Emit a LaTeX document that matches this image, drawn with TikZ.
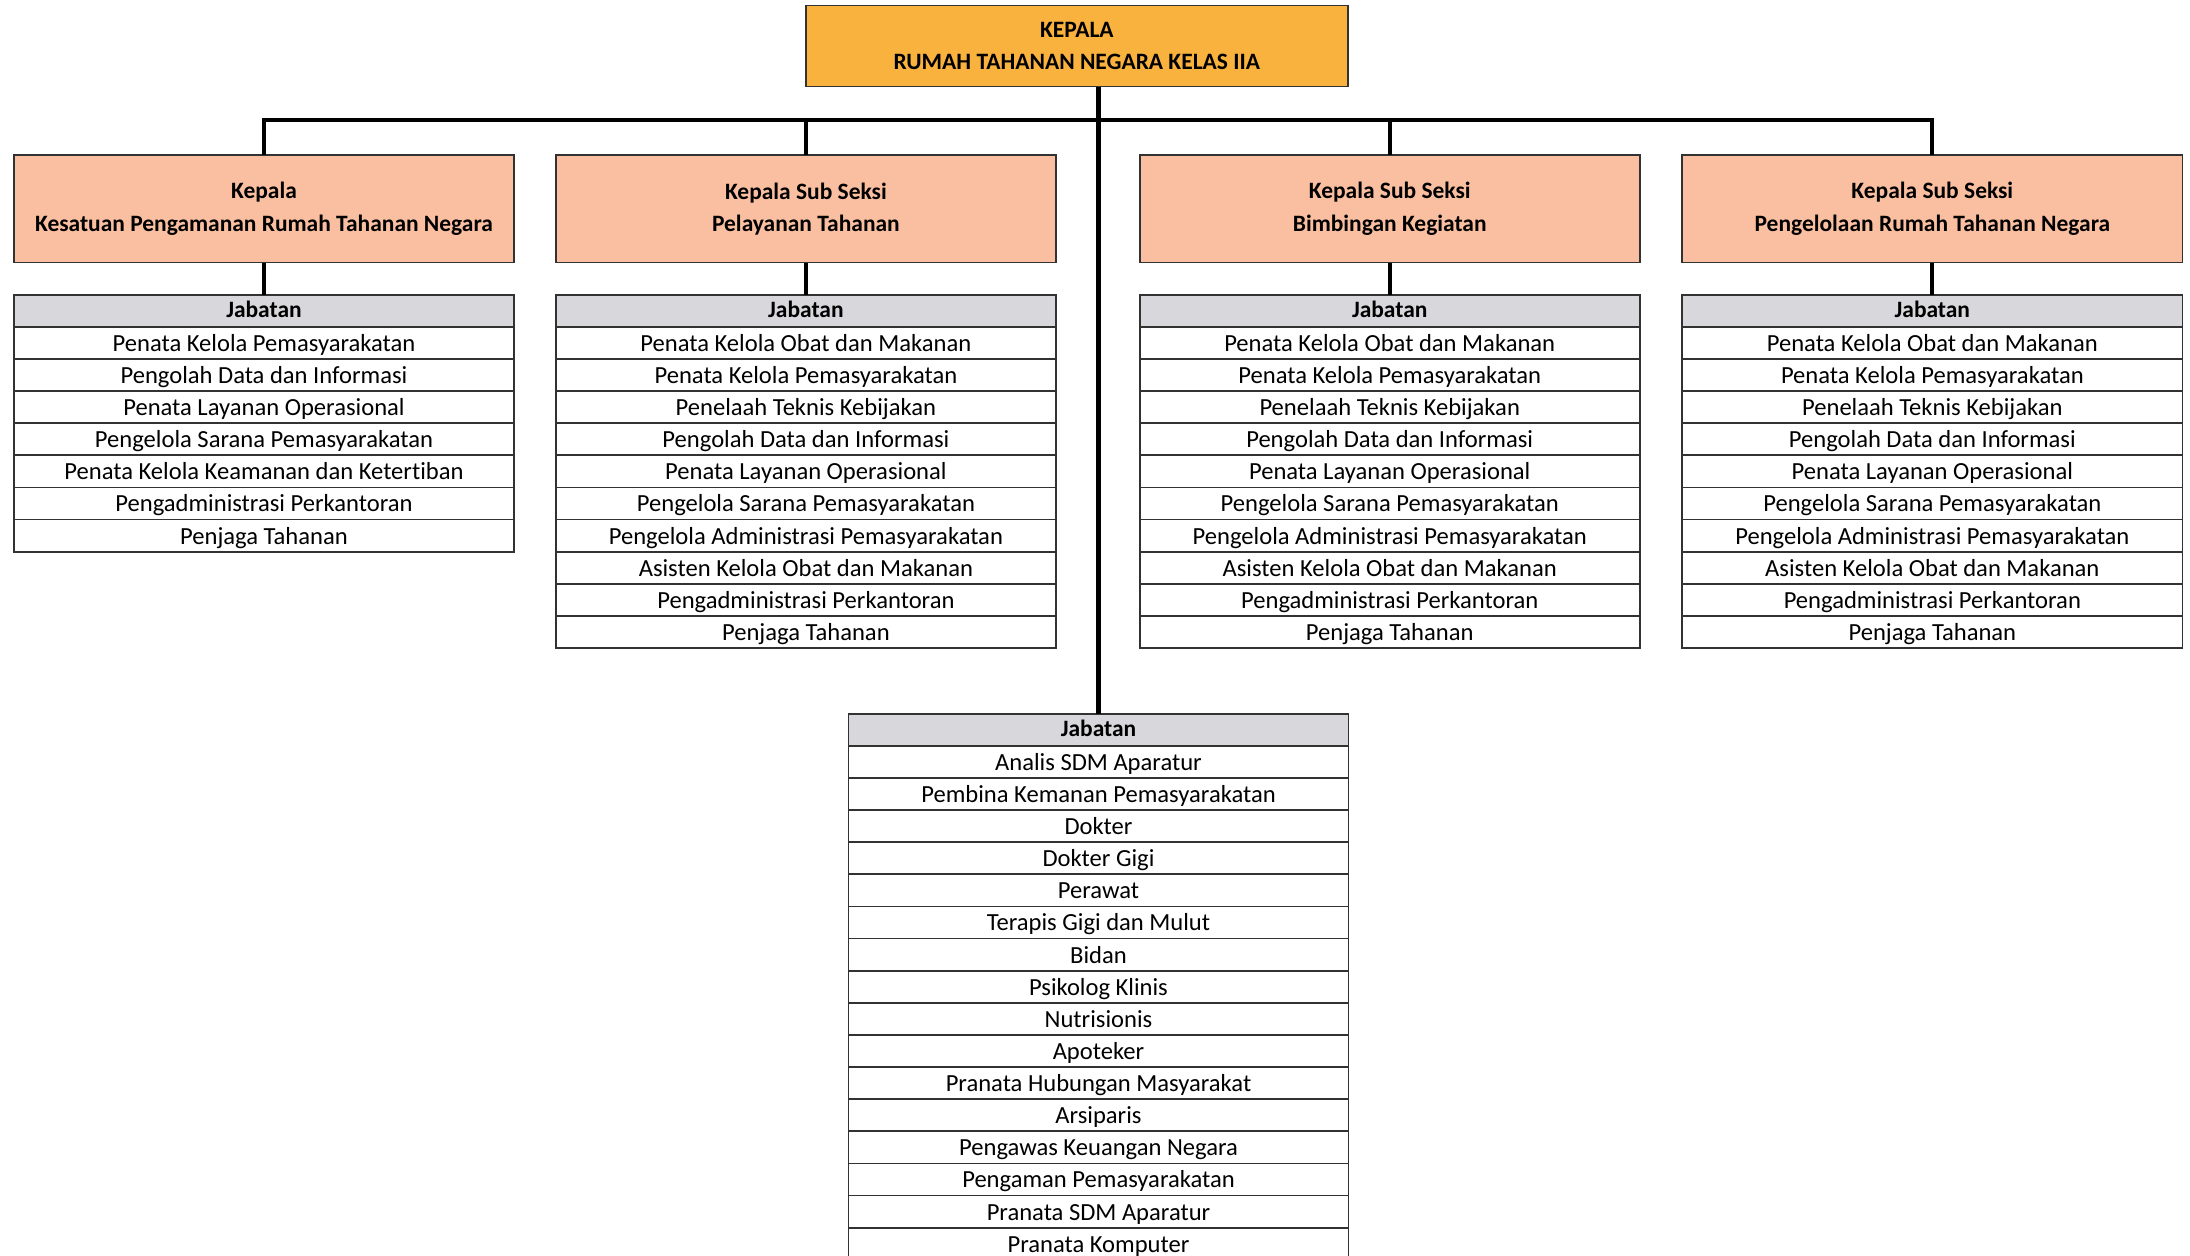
\documentclass[tikz,border=0pt]{standalone}
\usepackage{fontspec}
\setmainfont{Carlito}[Ligatures=NoCommon]
\usetikzlibrary{positioning}
\definecolor{kepalaorange}{RGB}{250,178,62}
\definecolor{seksisalmon}{RGB}{250,191,160}
\definecolor{jabgray}{RGB}{216,216,220}
\definecolor{lineclr}{RGB}{50,50,50}
\tikzset{
  topbox/.style   = {draw=lineclr, line width=0.6pt, fill=kepalaorange, minimum width=194pt, minimum height=29pt, inner sep=0pt, outer sep=0pt, align=center, font=\fontsize{8.4}{11.5}\selectfont\bfseries},
  seksibox/.style = {draw=lineclr, line width=0.6pt, fill=seksisalmon, minimum width=179pt, minimum height=38.5pt, inner sep=0pt, outer sep=0pt, align=center, font=\fontsize{8.4}{11.5}\selectfont\bfseries},
  jhead/.style    = {draw=lineclr, line width=0.6pt, fill=jabgray, minimum width=179pt, minimum height=11.5pt, inner sep=0pt, outer sep=0pt, text height=6.6pt, text depth=1.8pt, font=\fontsize{8.4}{10}\selectfont\bfseries},
  jrow/.style     = {draw=lineclr, line width=0.6pt, fill=white, minimum width=179pt, minimum height=11.5pt, inner sep=0pt, outer sep=0pt, text height=7.6pt, text depth=1.6pt, font=\fontsize{8.8}{10}\selectfont},
  conn/.style     = {line width=1.5pt, draw=black}
}

\begin{document}
\begin{tikzpicture}[x=0.5pt, y=-0.5pt]
  \useasboundingbox (0,0) rectangle (1568,899);
  \clip (0,0) rectangle (1568,899);
  \fill[white] (0,0) rectangle (1568,899);

  % kepala rutan and the four sub seksi
  \node[topbox] (top) at (771,33) {KEPALA\\RUMAH TAHANAN NEGARA KELAS IIA};
  \node[seksibox] (kp1) at (189,149.5)  {Kepala\\Kesatuan Pengamanan Rumah Tahanan Negara};
  \node[seksibox] (kp2) at (577,149.5)  {Kepala Sub Seksi\\Pelayanan Tahanan};
  \node[seksibox] (kp3) at (995,149.5)  {Kepala Sub Seksi\\Bimbingan Kegiatan};
  \node[seksibox] (kp4) at (1383.5,149.5) {Kepala Sub Seksi\\Pengelolaan Rumah Tahanan Negara};

  % jabatan tables
  \node[jhead, below=11.5pt of kp1] (t1-0) {Jabatan};
  \foreach \txt [count=\i, remember=\i as \j (initially 0)] in {Penata Kelola Pemasyarakatan, Pengolah Data dan Informasi, Penata Layanan Operasional, Pengelola Sarana Pemasyarakatan, Penata Kelola Keamanan dan Ketertiban, Pengadministrasi Perkantoran, Penjaga Tahanan}
    \node[jrow, below=0pt of t1-\j] (t1-\i) {\txt};

  \node[jhead, below=11.5pt of kp2] (t2-0) {Jabatan};
  \foreach \txt [count=\i, remember=\i as \j (initially 0)] in {Penata Kelola Obat dan Makanan, Penata Kelola Pemasyarakatan, Penelaah Teknis Kebijakan, Pengolah Data dan Informasi, Penata Layanan Operasional, Pengelola Sarana Pemasyarakatan, Pengelola Administrasi Pemasyarakatan, Asisten Kelola Obat dan Makanan, Pengadministrasi Perkantoran, Penjaga Tahanan}
    \node[jrow, below=0pt of t2-\j] (t2-\i) {\txt};

  \node[jhead, below=11.5pt of kp3] (t3-0) {Jabatan};
  \foreach \txt [count=\i, remember=\i as \j (initially 0)] in {Penata Kelola Obat dan Makanan, Penata Kelola Pemasyarakatan, Penelaah Teknis Kebijakan, Pengolah Data dan Informasi, Penata Layanan Operasional, Pengelola Sarana Pemasyarakatan, Pengelola Administrasi Pemasyarakatan, Asisten Kelola Obat dan Makanan, Pengadministrasi Perkantoran, Penjaga Tahanan}
    \node[jrow, below=0pt of t3-\j] (t3-\i) {\txt};

  \node[jhead, below=11.5pt of kp4] (t4-0) {Jabatan};
  \foreach \txt [count=\i, remember=\i as \j (initially 0)] in {Penata Kelola Obat dan Makanan, Penata Kelola Pemasyarakatan, Penelaah Teknis Kebijakan, Pengolah Data dan Informasi, Penata Layanan Operasional, Pengelola Sarana Pemasyarakatan, Pengelola Administrasi Pemasyarakatan, Asisten Kelola Obat dan Makanan, Pengadministrasi Perkantoran, Penjaga Tahanan}
    \node[jrow, below=0pt of t4-\j] (t4-\i) {\txt};

  % fungsional table under the kepala
  \node[jhead] (t5-0) at (786.5,522.5) {Jabatan};
  \foreach \txt [count=\i, remember=\i as \j (initially 0)] in {Analis SDM Aparatur, Pembina Kemanan Pemasyarakatan, Dokter, Dokter Gigi, Perawat, Terapis Gigi dan Mulut, Bidan, Psikolog Klinis, Nutrisionis, Apoteker, Pranata Hubungan Masyarakat, Arsiparis, Pengawas Keuangan Negara, Pengaman Pemasyarakatan, Pranata SDM Aparatur, Pranata Komputer}
    \node[jrow, below=0pt of t5-\j] (t5-\i) {\txt};

  % connectors
  \coordinate (bus) at (786,86);
  \draw[conn] (kp1.north) |- (bus) -| (kp4.north);
  \draw[conn] (kp2.north) |- (bus);
  \draw[conn] (kp3.north) |- (bus);
  \draw[conn] (top.south -| t5-0.north) -- (t5-0.north);
  \foreach \k in {1,2,3,4}
    \draw[conn] (kp\k.south) -- (t\k-0.north);
\end{tikzpicture}
\end{document}
